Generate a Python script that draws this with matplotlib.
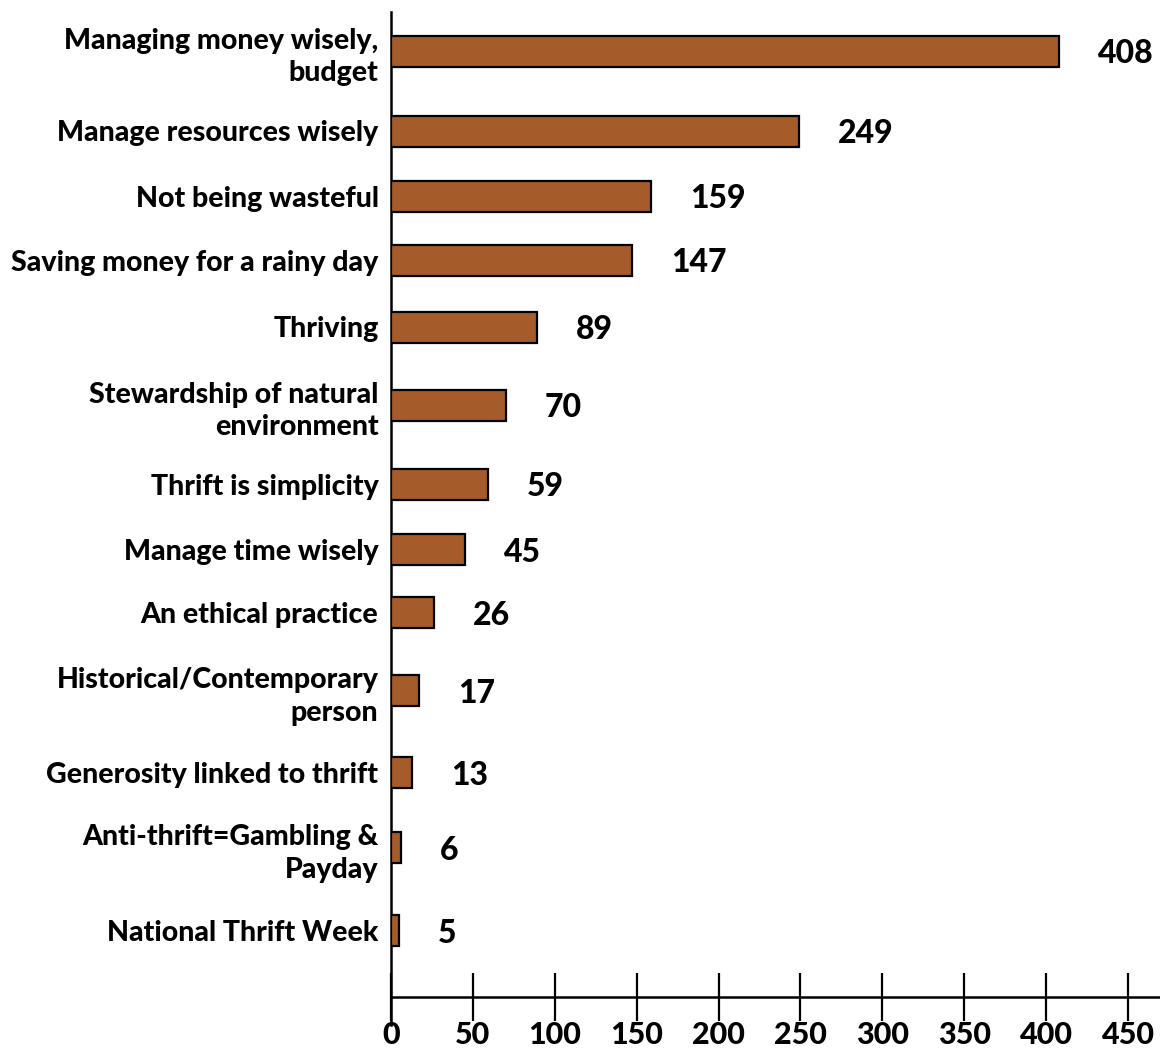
import matplotlib
matplotlib.use("Agg")
import matplotlib.pyplot as plt

# Category labels (top to bottom) and counts
categories = [
    "Managing money wisely,\nbudget",
    "Manage resources wisely",
    "Not being wasteful",
    "Saving money for a rainy day",
    "Thriving",
    "Stewardship of natural\nenvironment",
    "Thrift is simplicity",
    "Manage time wisely",
    "An ethical practice",
    "Historical/Contemporary\nperson",
    "Generosity linked to thrift",
    "Anti-thrift=Gambling &\nPayday",
    "National Thrift Week",
]
counts = [408, 249, 159, 147, 89, 70, 59, 45, 26, 17, 13, 6, 5]
x_ticks = [0, 50, 100, 150, 200, 250, 300, 350, 400, 450]

# row centres in axis units (top of axis = 12, bottom = 1025)
row_centres = [51, 131, 196, 260, 327, 405, 484, 550, 613, 691, 773, 848, 931]
x_axis_at = 997

BAR_COLOR = "#A65B2A"
FONT = "Lato"
WEIGHT = 900

W, H = 1160, 1055
fig = plt.figure(figsize=(W / 100, H / 100), dpi=100)
ax = fig.add_axes([391 / W, (H - 1025) / H, (W - 391) / W, (1025 - 12) / H])

ax.spines["top"].set_visible(False)
ax.spines["right"].set_visible(False)
ax.spines["left"].set_linewidth(1.8)
ax.spines["bottom"].set_linewidth(1.8)
ax.spines["bottom"].set_position(("data", x_axis_at))

ax.barh(row_centres, counts, height=31, color=BAR_COLOR,
        edgecolor="black", linewidth=1.6, zorder=3)

for y, v in zip(row_centres, counts):
    ax.annotate(str(v), (v, y), xytext=(28, -2), textcoords="offset points",
                ha="left", va="center", fontsize=23, fontweight=WEIGHT,
                family=FONT, color="black")

ax.set_xlim(0, (W - 391) / ((1128 - 391) / 450))
ax.set_ylim(1025, 12)

ax.set_yticks(row_centres)
ax.set_yticklabels(categories, fontsize=20.5, fontweight=WEIGHT, family=FONT,
                   linespacing=1.3)
ax.tick_params(axis="y", length=0, pad=9)

ax.set_xticks(x_ticks)
ax.set_xticklabels([str(t) for t in x_ticks], fontsize=22, fontweight=WEIGHT,
                   family=FONT)
ax.tick_params(axis="x", direction="inout", length=34, width=1.6, pad=0)

fig.savefig("out.png", dpi=100)
